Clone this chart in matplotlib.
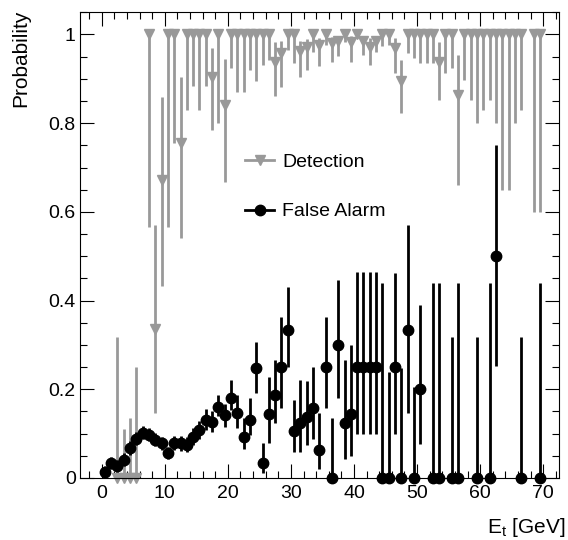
import numpy as np
import matplotlib
matplotlib.use("Agg")
import matplotlib.pyplot as plt
from matplotlib.lines import Line2D
from matplotlib.ticker import MultipleLocator

plt.rcParams['font.family'] = ['Liberation Sans', 'DejaVu Sans']
plt.rcParams['mathtext.fontset'] = 'custom'
plt.rcParams['mathtext.rm'] = 'Liberation Sans'
plt.rcParams['mathtext.it'] = 'Liberation Sans:italic'

# detection efficiency: bin centre, value, lower edge, upper edge of error bar
det_x = [2.5, 3.5, 4.5, 5.5, 7.5, 8.5, 9.5, 10.5, 11.5, 12.5, 13.5, 14.5, 15.5, 16.5,
         17.5, 18.5, 19.5, 20.5, 21.5, 22.5, 23.5, 24.5, 25.5, 26.5, 27.5, 28.5, 29.5,
         30.5, 31.5, 32.5, 33.5, 34.5, 35.5, 36.5, 37.5, 38.5, 39.5, 40.5, 41.5, 42.5,
         43.5, 44.5, 45.5, 46.5, 47.5, 48.5, 49.5, 50.5, 51.5, 52.5, 53.5, 54.5, 55.5,
         56.5, 57.5, 58.5, 59.5, 60.5, 61.5, 62.5, 63.5, 64.5, 65.5, 66.5, 68.5, 69.5]
det_y = [0, 0, 0, 0, 1, 0.336, 0.672, 1, 1, 0.756, 1, 1, 1, 1,
         0.905, 1, 0.84, 1, 1, 1, 1, 1, 1, 1, 0.939, 0.958, 1,
         1, 0.963, 0.971, 1, 0.976, 1, 0.98, 0.986, 1, 0.984, 1, 0.986, 0.972,
         0.986, 1, 1, 0.969, 0.896, 1, 1, 1, 1, 1, 0.939, 1, 1,
         0.864, 1, 1, 1, 1, 1, 1, 1, 1, 1, 1, 1, 1]
det_lo = [0, 0, 0, 0, 0.567, 0.146, 0.433, 0.567, 0.755, 0.542, 0.83, 0.884, 0.83, 0.884,
          0.785, 0.80, 0.668, 0.924, 0.871, 0.871, 0.92, 0.895, 0.931, 0.943, 0.861, 0.882, 0.965,
          0.936, 0.905, 0.921, 0.96, 0.929, 0.976, 0.939, 0.952, 0.984, 0.939, 0.992, 0.954, 0.931,
          0.961, 0.973, 0.976, 0.913, 0.824, 0.958, 0.946, 0.936, 0.936, 0.936, 0.852, 0.913, 0.924,
          0.66, 0.897, 0.852, 0.80, 0.83, 0.852, 0.80, 0.65, 0.65, 0.80, 0.83, 0.60, 0.60]
det_hi = [0.319, 0.11, 0.135, 0.25, 1, 0.57, 0.86, 1, 1, 0.905, 1, 1, 1, 1,
          0.97, 1, 0.944, 1, 1, 1, 1, 1, 1, 1, 0.983, 0.986, 1,
          1, 0.986, 0.99, 1, 0.993, 1, 0.995, 0.997, 1, 0.997, 1, 0.997, 0.992,
          0.997, 1, 1, 0.991, 0.943, 1, 1, 1, 1, 1, 0.984, 1, 1,
          0.954, 1, 1, 1, 1, 1, 1, 1, 1, 1, 1, 1, 1]

# false alarm rate
fa_x = [0.5, 1.5, 2.5, 3.5, 4.5, 5.5, 6.5, 7.5, 8.5, 9.5, 10.5, 11.5, 12.5, 13.5, 14.5,
        15.5, 16.5, 17.5, 18.5, 19.5, 20.5, 21.5, 22.5, 23.5, 24.5, 25.5, 26.5, 27.5,
        28.5, 29.5, 30.5, 31.5, 32.5, 33.5, 34.5, 35.5, 36.5, 37.5, 38.5, 39.5, 40.5,
        41.5, 42.5, 43.5, 44.5, 45.5, 46.5, 47.5, 48.5, 49.5, 50.5, 52.5, 53.5, 55.5,
        56.5, 59.5, 61.5, 62.5, 66.5, 69.5]
fa_y = [0.014, 0.033, 0.026, 0.041, 0.067, 0.089, 0.102, 0.097, 0.086, 0.078, 0.056, 0.078,
        0.078, 0.074, 0.093, 0.108, 0.131, 0.127, 0.161, 0.142, 0.181, 0.146, 0.093, 0.131,
        0.247, 0.033, 0.144, 0.187, 0.251, 0.334, 0.106, 0.125, 0.138, 0.157, 0.063, 0.251,
        0, 0.30, 0.125, 0.144, 0.25, 0.25, 0.25, 0.25, 0, 0, 0.25, 0, 0.333, 0, 0.20,
        0, 0, 0, 0, 0, 0, 0.5, 0, 0]
fa_lo = [0.004, 0.02, 0.014, 0.028, 0.052, 0.075, 0.088, 0.083, 0.072, 0.064, 0.043, 0.063,
         0.062, 0.058, 0.075, 0.088, 0.108, 0.103, 0.14, 0.116, 0.153, 0.113, 0.065, 0.097,
         0.192, 0.012, 0.08, 0.123, 0.157, 0.251, 0.059, 0.059, 0.074, 0.089, 0.02, 0.157,
         0, 0.18, 0.042, 0.05, 0.10, 0.10, 0.10, 0.10, 0, 0, 0.10, 0, 0.146, 0, 0.076,
         0, 0, 0, 0, 0, 0, 0.253, 0, 0]
fa_hi = [0.026, 0.048, 0.04, 0.056, 0.083, 0.104, 0.117, 0.112, 0.101, 0.093, 0.071, 0.094,
         0.095, 0.092, 0.112, 0.129, 0.155, 0.152, 0.187, 0.167, 0.221, 0.187, 0.135, 0.18,
         0.307, 0.08, 0.228, 0.266, 0.364, 0.431, 0.176, 0.221, 0.219, 0.251, 0.146, 0.364,
         0.135, 0.446, 0.266, 0.30, 0.465, 0.465, 0.465, 0.465, 0.439, 0.24, 0.463, 0.247,
         0.57, 0.206, 0.39, 0.439, 0.439, 0.319, 0.439, 0.319, 0.439, 0.75, 0.319, 0.439]

gray = '#999999'

fig = plt.figure(figsize=(5.68, 5.40), dpi=100)
ax = fig.add_axes([80 / 568, 62 / 540, 479 / 568, 466 / 540])

det_y = np.array(det_y)
fa_y = np.array(fa_y)
eb1 = ax.errorbar(det_x, det_y, yerr=[det_y - np.array(det_lo), np.array(det_hi) - det_y],
                  fmt='v', color=gray, ms=7.5, elinewidth=2, capsize=0)
eb2 = ax.errorbar(fa_x, fa_y, yerr=[fa_y - np.array(fa_lo), np.array(fa_hi) - fa_y],
                  fmt='o', color='black', ms=7.5, elinewidth=2, capsize=0)
for eb in (eb1, eb2):
    for art in eb.get_children():
        art.set_clip_on(False)

ax.set_xlim(-3.44, 72.5)
ax.set_ylim(0, 1.0507)
ax.xaxis.set_major_locator(MultipleLocator(10))
ax.xaxis.set_minor_locator(MultipleLocator(2))
ax.yaxis.set_major_locator(MultipleLocator(0.2))
ax.yaxis.set_minor_locator(MultipleLocator(0.05))
ax.set_yticks([0, 0.2, 0.4, 0.6, 0.8, 1.0])
ax.set_yticklabels(['0', '0.2', '0.4', '0.6', '0.8', '1'])
ax.tick_params(which='both', direction='in', top=True, right=True, labelsize=14, width=0.8)
ax.tick_params(which='major', length=10)
ax.tick_params(which='minor', length=5)
ax.tick_params(axis='y', pad=3)
ax.tick_params(axis='x', pad=5)
for s in ax.spines.values():
    s.set_linewidth(0.8)

fig.text(21 / 568, 1 - 10 / 540, 'Probability', rotation=90, ha='center', va='top', fontsize=15)
fig.text(565 / 568, 1 - 533 / 540, r'E$_{\mathrm{t}}$ [GeV]', ha='right', va='baseline', fontsize=15)

handles = [Line2D([], [], color=gray, marker='v', ms=7.5, lw=2),
           Line2D([], [], color='black', marker='o', ms=7.5, lw=2)]
ax.legend(handles, ['Detection', 'False Alarm'], loc='upper left', frameon=False,
          bbox_to_anchor=(245 / 568, 1 - 153 / 540), bbox_transform=fig.transFigure,
          borderpad=0, borderaxespad=0, handlelength=1.5, handletextpad=0.4,
          labelspacing=1.65, fontsize=14)

fig.savefig('out.png', dpi=100)
